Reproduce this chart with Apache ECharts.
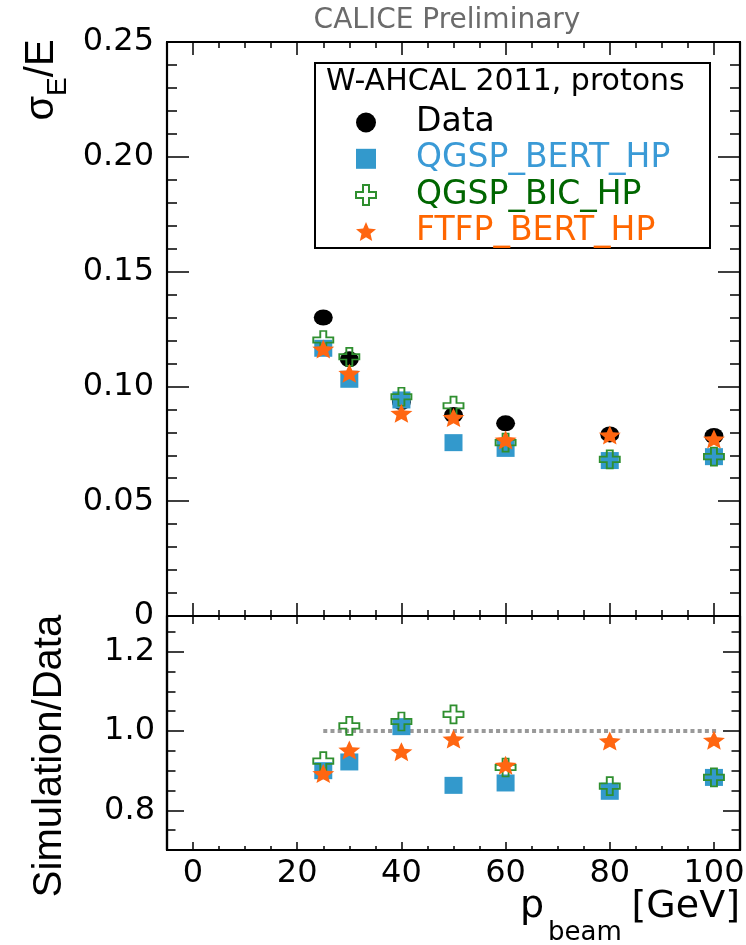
<!DOCTYPE html>
<html><head><meta charset="utf-8">
<script src="https://cdn.jsdelivr.net/npm/echarts@6/dist/echarts.min.js"></script>
<style>html,body{margin:0;padding:0;background:#fff}#c{width:746px;height:945px}</style>
</head><body><div id="c"></div>
<script>
// ---------------- data ----------------
const energies = [25, 30, 40, 50, 60, 80, 100];
const dataRes = [0.1300, 0.1118, 0.0932, 0.0875, 0.0839, 0.0791, 0.0784];
const qgspBertRes = [0.1166, 0.1031, 0.0941, 0.0755, 0.0730, 0.0677, 0.0694];
const qgspBicRes = [0.1202, 0.1129, 0.0955, 0.0916, 0.0755, 0.0682, 0.0694];
const ftfpBertRes = [0.1163, 0.1057, 0.0883, 0.0865, 0.0767, 0.0788, 0.0771];
const qgspBertRatio = [0.900, 0.922, 1.011, 0.863, 0.869, 0.848, 0.883];
const qgspBicRatio = [0.924, 1.013, 1.024, 1.042, 0.908, 0.861, 0.883];
const ftfpBertRatio = [0.893, 0.952, 0.948, 0.980, 0.914, 0.975, 0.977];
const unityX = [25, 101];
const unityY = [1, 1];
const xMajorTicks = [0, 20, 40, 60, 80, 100];
const xMinorTicks = [0, 5, 10, 15, 20, 25, 30, 35, 40, 45, 50, 55, 60, 65, 70, 75, 80, 85, 90, 95, 100];
const ratioMajorTicks = [0.8, 1.0, 1.2];
const ratioMinorTicks = [0.75, 0.8, 0.85, 0.9, 0.95, 1.0, 1.05, 1.1, 1.15, 1.2, 1.25];
const seriesNames = ['Data', 'QGSP_BERT_HP', 'QGSP_BIC_HP', 'FTFP_BERT_HP'];
const seriesTextColors = ['#000000', '#3a9ad6', '#006600', '#ff6600'];

// ---------------- styles ----------------
const X_MIN = -5, X_MAX = 105;
const FONT = 'DejaVu Sans';
const TICK_FS = 32;
const CROSS = 'path://M7,0 H13 V7 H20 V13 H13 V20 H7 V13 H0 V7 H7 Z';
const STAR = 'path://M0,-1 L0.265,-0.364 L0.951,-0.309 L0.428,0.139 L0.588,0.809 L0,0.45 L-0.588,0.809 L-0.428,0.139 L-0.951,-0.309 L-0.265,-0.364 Z';

const zip = (xs, ys) => xs.map((x, i) => [x, ys[i]]);

function xAx(grid, pos, vals, len, labels) {
  return {
    type: 'value', gridIndex: grid, position: pos, min: X_MIN, max: X_MAX,
    axisLine: {show: true, onZero: false, lineStyle: {color: '#000', width: 2.2}},
    axisTick: {show: true, inside: true, length: len, customValues: vals, lineStyle: {color: '#000', width: 1.5}},
    axisLabel: labels ? {show: true, customValues: vals, fontSize: TICK_FS, fontFamily: FONT, color: '#000', margin: 8} : {show: false},
    splitLine: {show: false}
  };
}
function yRatio(pos, vals, len, labels) {
  return {
    type: 'value', gridIndex: 1, position: pos, min: 0.7, max: 1.29,
    axisLine: {show: true, onZero: false, lineStyle: {color: '#000', width: 2.2}},
    axisTick: {show: true, inside: true, length: len, customValues: vals, lineStyle: {color: '#000', width: 1.5}},
    axisLabel: labels ? {show: true, customValues: vals, fontSize: TICK_FS, fontFamily: FONT, color: '#000', margin: 12,
      formatter: v => v.toFixed(1)} : {show: false},
    splitLine: {show: false}
  };
}
function yTop(pos, labels) {
  return {
    type: 'value', gridIndex: 0, position: pos, min: 0, max: 0.25, interval: 0.05,
    axisLine: {show: true, onZero: false, lineStyle: {color: '#000', width: 2.2}},
    axisTick: {show: true, inside: true, length: 22, lineStyle: {color: '#000', width: 1.5}},
    minorTick: {show: true, splitNumber: 5, length: 10, lineStyle: {color: '#000', width: 1.5}},
    axisLabel: labels ? {show: true, fontSize: TICK_FS, fontFamily: FONT, color: '#000', margin: 13,
      formatter: v => v === 0 ? '0' : v.toFixed(2)} : {show: false},
    splitLine: {show: false}, minorSplitLine: {show: false}
  };
}

const markerStyles = [
  {symbol: 'circle', symbolSize: [19, 16], itemStyle: {color: '#000', opacity: 1}},
  {symbol: 'rect', symbolSize: [18, 17], itemStyle: {color: '#3399cc', opacity: 1}},
  {symbol: CROSS, symbolSize: [20, 18], itemStyle: {color: 'rgba(255,255,255,0)', borderColor: '#2f8f2f', borderWidth: 1.8, opacity: 1}},
  {symbol: STAR, symbolSize: [22, 19], itemStyle: {color: '#ff6611', opacity: 1}}
];

function sc(nameIdx, xi, yi, values, z) {
  const m = markerStyles[nameIdx];
  return Object.assign({
    type: 'scatter', name: seriesNames[nameIdx], xAxisIndex: xi, yAxisIndex: yi,
    data: zip(energies, values), z: z, emphasis: {disabled: true}
  }, m);
}

const LEG_FS = 33;
const chart = echarts.init(document.getElementById('c'), null, {renderer: 'canvas'});
chart.setOption({
  animation: false,
  backgroundColor: '#fff',
  grid: [
    {left: 167, top: 42, width: 573, height: 574, outerBoundsMode: 'none'},
    {left: 167, top: 616, width: 573, height: 234, outerBoundsMode: 'none'}
  ],
  xAxis: [
    xAx(0, 'bottom', xMajorTicks, 13, false),
    xAx(0, 'bottom', xMinorTicks, 6, false),
    xAx(0, 'top', xMajorTicks, 13, false),
    xAx(0, 'top', xMinorTicks, 6, false),
    xAx(1, 'bottom', xMajorTicks, 8, true),
    xAx(1, 'bottom', xMinorTicks, 4, false),
    xAx(1, 'top', xMajorTicks, 8, false),
    xAx(1, 'top', xMinorTicks, 4, false)
  ],
  yAxis: [
    yTop('left', true),
    yTop('right', false),
    yRatio('left', ratioMajorTicks, 17, true),
    yRatio('left', ratioMinorTicks, 8.5, false),
    yRatio('right', ratioMajorTicks, 17, false),
    yRatio('right', ratioMinorTicks, 8.5, false)
  ],
  legend: {
    orient: 'vertical', left: 350, top: 101, itemWidth: 20, itemHeight: 20, itemGap: 3.3,
    selectedMode: false, z: 6,
    data: seriesNames.map((n, i) => ({name: n, textStyle: {color: seriesTextColors[i], fontSize: LEG_FS, fontFamily: FONT}})),
    textStyle: {fontSize: LEG_FS, fontFamily: FONT, padding: [0, 0, 0, 35]}
  },
  graphic: [
    {type: 'rect', z: 3, shape: {x: 315, y: 63, width: 395, height: 185},
      style: {fill: '#fff', stroke: '#000', lineWidth: 2}},
    {type: 'text', z: 6, x: 326, y: 82,
      style: {text: 'W-AHCAL 2011, protons', font: '30px "DejaVu Sans"', fill: '#000', textAlign: 'left', textVerticalAlign: 'middle'}},
    {type: 'text', z: 6, x: 447, y: 21,
      style: {text: 'CALICE Preliminary', font: '28px "DejaVu Sans"', fill: '#6b6b6b', textAlign: 'center', textVerticalAlign: 'middle'}},
    {type: 'text', z: 6, x: 47, y: 80, rotation: Math.PI / 2,
      style: {text: '{a|σ}{b|E}{a|/E}', textAlign: 'center', textVerticalAlign: 'middle',
        rich: {
          a: {fontSize: 40, fontFamily: 'Liberation Sans', fill: '#000', verticalAlign: 'bottom', padding: [0, 0, 10, 0]},
          b: {fontSize: 28, fontFamily: 'Liberation Sans', fill: '#000', verticalAlign: 'bottom'}
        }}},
    {type: 'text', z: 6, x: 50, y: 756, rotation: Math.PI / 2,
      style: {text: 'Simulation/Data', font: '40px "Liberation Sans"', fill: '#000', textAlign: 'center', textVerticalAlign: 'middle'}},
    {type: 'text', z: 6, x: 520, y: 907,
      style: {text: 'p', font: '38px "DejaVu Sans"', fill: '#000', textAlign: 'left', textVerticalAlign: 'middle'}},
    {type: 'text', z: 6, x: 548, y: 933,
      style: {text: 'beam', font: '26px "DejaVu Sans"', fill: '#000', textAlign: 'left', textVerticalAlign: 'middle'}},
    {type: 'text', z: 6, x: 740, y: 907,
      style: {text: '[GeV]', font: '38px "DejaVu Sans"', fill: '#000', textAlign: 'right', textVerticalAlign: 'middle'}}
  ],
  series: [
    sc(0, 0, 0, dataRes, 2),
    sc(1, 0, 0, qgspBertRes, 3),
    sc(2, 0, 0, qgspBicRes, 4),
    sc(3, 0, 0, ftfpBertRes, 5),
    {type: 'line', name: 'unity', xAxisIndex: 4, yAxisIndex: 2, data: zip(unityX, unityY), showSymbol: false, symbol: 'none', z: 1,
      lineStyle: {color: '#999999', width: 4, type: [4, 3.2]}, emphasis: {disabled: true}},
    sc(1, 4, 2, qgspBertRatio, 3),
    sc(2, 4, 2, qgspBicRatio, 4),
    sc(3, 4, 2, ftfpBertRatio, 5)
  ]
});
</script></body></html>
